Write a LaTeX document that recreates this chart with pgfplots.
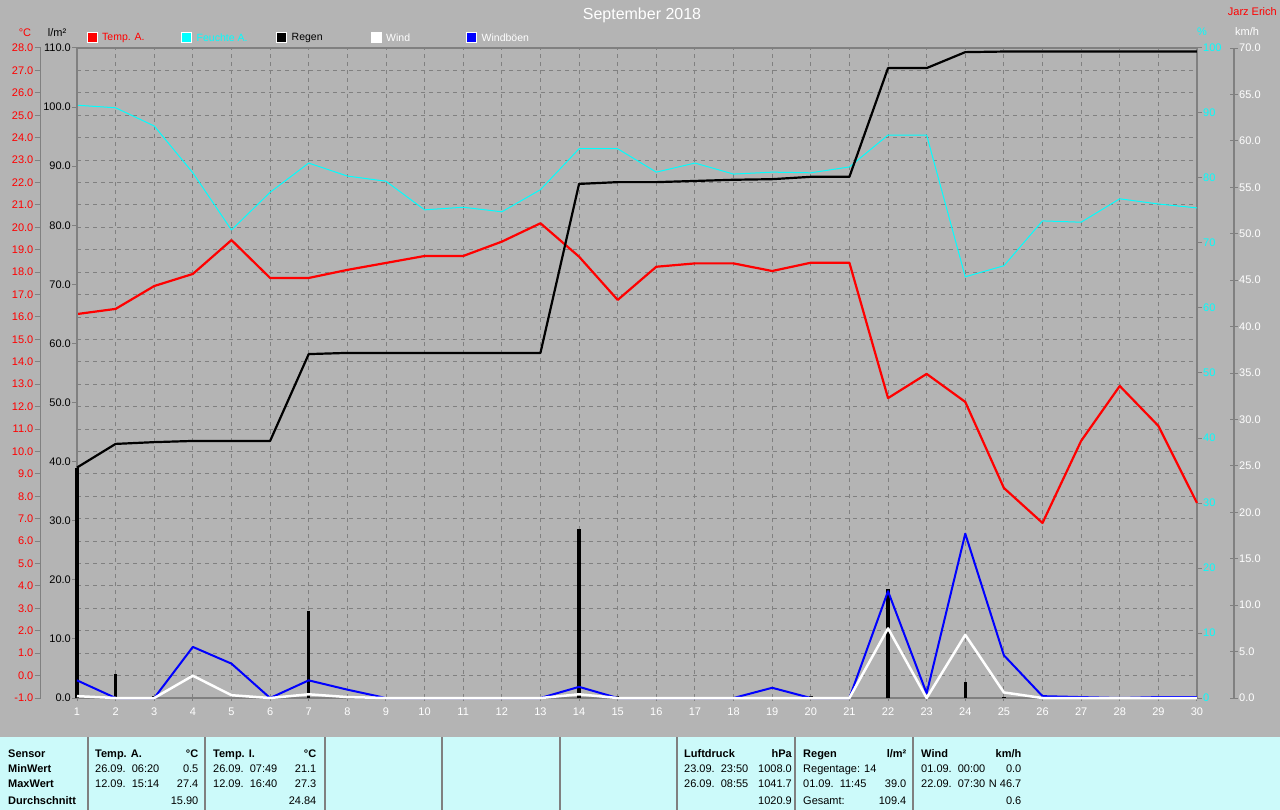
\documentclass[border=0pt]{standalone}
\usepackage{pgfplots}
\usepackage{pgfplotstable}
\pgfplotsset{compat=1.18}
\usepackage{fontspec}
\setmainfont{Liberation Sans}
\definecolor{bg}{RGB}{180,180,180}
\definecolor{panel}{RGB}{204,250,250}
\definecolor{gg}{RGB}{128,128,128}
\definecolor{cy}{RGB}{0,255,255}
\definecolor{bl}{RGB}{0,0,255}
\definecolor{rd}{RGB}{255,0,0}

\pgfplotstableread{
day temp hum rainsum wind gust
1 16.13 91.2 39.0 0.2 1.9
2 16.36 90.8 43.0 0.0 0.0
3 17.38 88.0 43.3 0.0 0.0
4 17.92 80.8 43.5 2.4 5.5
5 19.43 72.0 43.5 0.3 3.7
6 17.74 77.8 43.5 0.0 0.0
7 17.74 82.3 58.2 0.4 1.9
8 18.10 80.3 58.4 0.1 0.9
9 18.41 79.5 58.4 0.0 0.0
10 18.72 75.1 58.4 0.0 0.0
11 18.72 75.5 58.4 0.0 0.0
12 19.36 74.8 58.4 0.0 0.0
13 20.18 78.2 58.4 0.0 0.0
14 18.69 84.5 87.0 0.4 1.2
15 16.76 84.5 87.3 0.0 0.0
16 18.24 80.9 87.3 0.0 0.0
17 18.39 82.3 87.5 0.0 0.0
18 18.39 80.6 87.7 0.0 0.0
19 18.05 80.9 87.8 0.0 1.1
20 18.42 80.8 88.2 0.0 0.0
21 18.42 81.7 88.2 0.0 0.0
22 12.38 86.6 106.6 7.5 11.5
23 13.46 86.6 106.6 0.0 0.5
24 12.21 64.8 109.3 6.8 17.7
25 8.37 66.5 109.4 0.6 4.6
26 6.81 73.4 109.4 0.0 0.2
27 10.47 73.2 109.4 0.0 0.1
28 12.92 76.8 109.4 0.0 0.0
29 11.14 76.0 109.4 0.0 0.1
30 7.70 75.4 109.4 0.0 0.1
}\daily

\pgfplotstableread{
day rain
1 39.0
2 4.1
3 0.3
7 14.7
8 0.2
14 28.6
15 0.3
18 0.2
19 0.2
20 0.4
21 0.2
22 18.4
23 0.2
24 2.7
25 0.2
}\rainbars

\newcommand\tfont{\fontsize{11}{11}\selectfont}
\pgfplotsset{
  base/.style={scale only axis, width=1120pt, height=650pt, at={(77pt,-698pt)}, anchor=south west,
    xmin=1, xmax=30, clip=false,
    /pgf/number format/assume math mode=true,
    tick label style={font=\tfont},
    major tick length=5pt, tick align=outside, tick style={gg, line width=1pt}},
  side/.style={scale only axis, width=1pt, height=650pt, anchor=south west, xmin=0, xmax=1,
    axis x line=none, xtick=\empty,
    /pgf/number format/assume math mode=true,
    tick label style={font=\tfont},
    tick style={gg, line width=1pt}, y axis line style={gg, line width=1.2pt}},
  onedec/.style={yticklabel style={/pgf/number format/fixed, /pgf/number format/fixed zerofill, /pgf/number format/precision=1}}
}
\newcommand\pfont{\fontsize{11}{11}\selectfont}
\newcommand\pl[3]{\node[anchor=base west, inner sep=0pt, font=\pfont] at (#1pt,-#2pt) {#3};}
\newcommand\pr[3]{\node[anchor=base east, inner sep=0pt, font=\pfont] at (#1pt,-#2pt) {#3};}
\newcommand\gapsp{\hspace{6pt}}

\begin{document}
\begin{tikzpicture}
\fill[bg] (0pt,0pt) rectangle (1280pt,-810pt);
\useasboundingbox (0pt,0pt) rectangle (1280pt,-810pt);

% grid axis
\begin{axis}[base, ymin=-1, ymax=28, xtick={1,...,30}, ytick={-1,0,...,28}, yticklabels={},
   grid=major, major grid style={gg, line width=0.9pt, dash pattern=on 4pt off 4pt},
   axis line style={gg, line width=2pt},
   xticklabel style={white, yshift=-3pt},
   xtick pos=bottom, ytick style={draw=none}, major tick length=3pt]
\end{axis}

% humidity
\begin{axis}[base, ymin=0, ymax=100, axis x line=none, axis y line*=right, ytick={0,10,...,100},
   yticklabel style={cy, inner sep=1pt},
   y axis line style={gg, line width=2pt}]
\addplot[cy, line width=1pt, line join=round] table[x=day,y=hum]{\daily};
\end{axis}

% temperature
\begin{axis}[base, ymin=-1, ymax=28, axis lines=none]
\addplot[rd, line width=2.2pt, line join=round] table[x=day,y=temp]{\daily};
\end{axis}

% rain
\begin{axis}[base, onedec, ymin=0, ymax=110, axis x line=none, axis y line*=left, ytick={0,10,...,110},
   y axis line style={gg, line width=2pt}, yticklabel style={black, inner sep=1pt}]
\addplot[black, line width=3.5pt, ycomb] table[x=day,y=rain]{\rainbars};
\addplot[black, line width=2.2pt, line join=round] table[x=day,y=rainsum]{\daily};
\end{axis}

% wind
\begin{axis}[base, ymin=0, ymax=70, axis lines=none]
\addplot[bl, line width=2pt, line join=round] table[x=day,y=gust]{\daily};
\addplot[white, line width=2.5pt, line join=round] table[x=day,y=wind]{\daily};
\end{axis}

% temperature label axis
\begin{axis}[side, onedec, at={(40.5pt,-698pt)}, ymin=-1, ymax=28, axis y line*=left, ytick={-1,0,...,28},
   major tick length=6pt, tick align=outside, yticklabel style={rd, inner sep=1pt}]
\end{axis}

% wind label axis
\begin{axis}[side, onedec, at={(1233pt,-698pt)}, ymin=0, ymax=70, axis y line*=right, ytick={0,5,...,70},
   major tick length=8pt, tick align=center, yticklabel style={white, inner sep=1pt}]
\end{axis}

% titles
\node[white, font=\fontsize{16}{16}\selectfont] at (642pt,-15pt) {September 2018};
\node[rd, font=\fontsize{11}{11}\selectfont, anchor=east, inner sep=0pt] at (1277pt,-12pt) {Jarz Erich};
\node[rd, font=\tfont] at (25pt,-33pt) {°C};
\node[black, font=\tfont] at (57pt,-33pt) {l/m²};
\node[cy, font=\tfont] at (1202pt,-32pt) {\%};
\node[white, font=\tfont] at (1247pt,-32pt) {km/h};

% legend
\foreach \xx/\cc/\tc/\tt in {87/rd/rd/{Temp. A.}, 181.5/cy/cy/{Feuchte A.}, 276.5/black/black/Regen, 371/white/white/Wind, 466.5/bl/white/Windböen}{
  \draw[white, fill=\cc, line width=1pt] (\xx pt,-33pt) rectangle ++(10pt,-10pt);
  \node[\tc, anchor=west, inner sep=0pt, font=\fontsize{10.5}{10.5}\selectfont] at (\xx pt+15pt,-38pt) {\tt};
}

% bottom panel
\fill[panel] (0pt,-737pt) rectangle (1280pt,-810pt);
\foreach \xx in {88,205,325,442,560,677,795,913}{
  \draw[gg, line width=1.2pt] (\xx pt,-737pt) -- (\xx pt,-810pt);
}
\pl{8}{757}{\textbf{Sensor}}
\pl{8}{772}{\textbf{MinWert}}
\pl{8}{787.5}{\textbf{MaxWert}}
\pl{8}{804}{\textbf{Durchschnitt}}

\pl{95}{757}{\textbf{Temp. A.}} \pr{198.5}{757}{\textbf{°C}}
\pl{95}{772}{26.09.\gapsp06:20} \pr{198.5}{772}{0.5}
\pl{95}{787.5}{12.09.\gapsp15:14} \pr{198.5}{787.5}{27.4}
\pr{198.5}{804}{15.90}

\pl{213}{757}{\textbf{Temp. I.}} \pr{316.5}{757}{\textbf{°C}}
\pl{213}{772}{26.09.\gapsp07:49} \pr{316.5}{772}{21.1}
\pl{213}{787.5}{12.09.\gapsp16:40} \pr{316.5}{787.5}{27.3}
\pr{316.5}{804}{24.84}

\pl{684}{757}{\textbf{Luftdruck}} \pr{792}{757}{\textbf{hPa}}
\pl{684}{772}{23.09.\gapsp23:50} \pr{792}{772}{1008.0}
\pl{684}{787.5}{26.09.\gapsp08:55} \pr{792}{787.5}{1041.7}
\pr{792}{804}{1020.9}

\pl{803}{757}{\textbf{Regen}} \pr{906.5}{757}{\textbf{l/m²}}
\pl{803}{772}{Regentage: 14}
\pl{803}{787.5}{01.09.\gapsp11:45} \pr{906.5}{787.5}{39.0}
\pl{803}{804}{Gesamt:} \pr{906.5}{804}{109.4}

\pl{921}{757}{\textbf{Wind}} \pr{1021.5}{757}{\textbf{km/h}}
\pl{921}{772}{01.09.\gapsp00:00} \pr{1021.5}{772}{0.0}
\pl{921}{787.5}{22.09.\gapsp07:30} \pr{1021.5}{787.5}{N 46.7}
\pr{1021.5}{804}{0.6}
\end{tikzpicture}
\end{document}
